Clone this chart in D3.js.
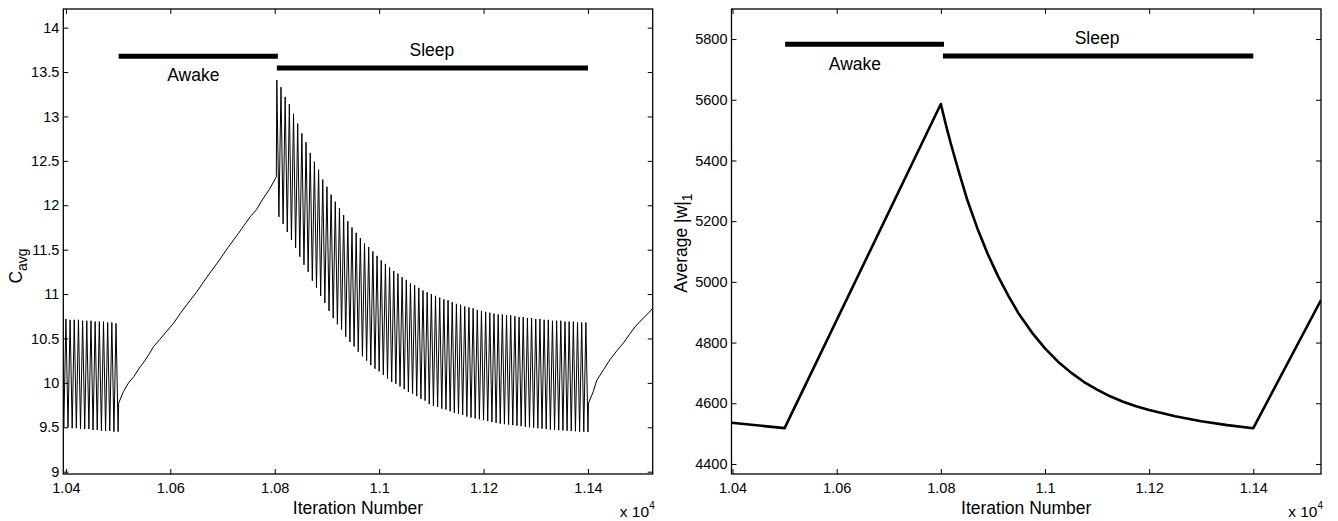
<!DOCTYPE html>
<html>
<head>
<meta charset="utf-8">
<script src="https://cdn.jsdelivr.net/npm/d3@7"></script>
<style>
  body { margin: 0; background: #fff; }
  svg { display: block; font-family: "Liberation Sans", Arial, Helvetica, sans-serif; }
</style>
</head>
<body>
<div id="chart"></div>
<script>
// ---- data (x in iterations) ----
const xTicks = [10400, 10600, 10800, 11000, 11200, 11400];
const xTickLabels = ['1.04', '1.06', '1.08', '1.1', '1.12', '1.14'];
const cTicks = [9, 9.5, 10, 10.5, 11, 11.5, 12, 12.5, 13, 13.5, 14];
const wTicks = [4400, 4600, 4800, 5000, 5200, 5400, 5600, 5800];

// C_avg zigzag: one peak + one trough every cycle
const cyclePeriod = 8;
const preStart = 10392;
const prePeaks = [10.72, 10.72, 10.71, 10.71, 10.71, 10.70, 10.70, 10.70, 10.69, 10.69, 10.69, 10.68, 10.68, 10.67];
const preTroughs = [9.50, 9.50, 9.49, 9.49, 9.48, 9.48, 9.48, 9.47, 9.47, 9.46, 9.46, 9.46, 9.45, 9.45];

const awakeIter = [10501, 10510, 10520, 10530, 10542, 10550, 10560, 10568, 10580, 10590, 10606, 10620, 10638, 10650,
  10670, 10690, 10710, 10730, 10753, 10765, 10776, 10790, 10803];
const awakeVal = [9.77, 9.90, 10.00, 10.07, 10.18, 10.24, 10.33, 10.41, 10.49, 10.56, 10.67, 10.79, 10.93, 11.02,
  11.19, 11.35, 11.52, 11.68, 11.87, 11.95, 12.06, 12.18, 12.32];

const sleepStart = 10804;
const sleepPeaks = [13.41, 13.33, 13.22, 13.14, 13.03, 12.92, 12.81, 12.71, 12.59, 12.49,
  12.40, 12.29, 12.21, 12.12, 12.04, 11.97, 11.89, 11.82, 11.75, 11.69,
  11.63, 11.57, 11.53, 11.48, 11.43, 11.38, 11.34, 11.30, 11.26, 11.23,
  11.19, 11.16, 11.12, 11.10, 11.07, 11.04, 11.02, 11.00, 10.98, 10.96,
  10.94, 10.93, 10.91, 10.89, 10.88, 10.86, 10.85, 10.84, 10.82, 10.81,
  10.80, 10.79, 10.78, 10.77, 10.77, 10.76, 10.76, 10.75, 10.74, 10.74,
  10.73, 10.73, 10.72, 10.72, 10.71, 10.71, 10.70, 10.70, 10.70, 10.69,
  10.69, 10.69, 10.68, 10.68, 10.68];
const sleepTroughs = [11.87, 11.79, 11.70, 11.61, 11.52, 11.42, 11.33, 11.25, 11.15, 11.07,
  10.98, 10.90, 10.81, 10.73, 10.66, 10.60, 10.52, 10.46, 10.41, 10.35,
  10.30, 10.25, 10.20, 10.16, 10.13, 10.09, 10.05, 10.01, 9.99, 9.96,
  9.93, 9.90, 9.88, 9.85, 9.82, 9.80, 9.76, 9.74, 9.73, 9.71,
  9.70, 9.68, 9.66, 9.65, 9.64, 9.62, 9.61, 9.60, 9.59, 9.58,
  9.57, 9.56, 9.55, 9.54, 9.535, 9.53, 9.524, 9.518, 9.512, 9.506,
  9.50, 9.495, 9.49, 9.485, 9.48, 9.475, 9.471, 9.467, 9.464, 9.461,
  9.458, 9.455, 9.452, 9.45, 9.447];

const postIter = [11401, 11410, 11417, 11430, 11442, 11455, 11468, 11480, 11490, 11506, 11515, 11524];
const postVal = [9.77, 9.90, 10.03, 10.15, 10.26, 10.36, 10.45, 10.55, 10.63, 10.73, 10.78, 10.84];

// Average |w|_1
const wIter = [10398, 10500, 10800, 10810, 10820, 10835, 10850, 10870, 10890, 10910, 10930, 10950, 10975,
  11000, 11025, 11050, 11075, 11100, 11125, 11150, 11175, 11200, 11250, 11300, 11350, 11400, 11530];
const wVal = [4536, 4518, 5586, 5515, 5450, 5360, 5274, 5177, 5092, 5018, 4953, 4894, 4833,
  4781, 4737, 4701, 4670, 4645, 4623, 4605, 4590, 4578, 4557, 4541, 4528, 4518, 4940];

// Awake / Sleep bars and their captions
const stageNames = ['Awake', 'Sleep'];
const stageStart = [10501, 10804];
const stageEnd = [10806, 11400];
const cStageLevel = [13.678, 13.545];
const wStageLevel = [5783, 5744];
const cCaptionX = [10644, 11101];
const cCaptionY = [13.403, 13.681];
const wCaptionX = [10635, 11100];
const wCaptionY = [5698, 5783];

// build the C_avg series
const cSeries = [];
prePeaks.forEach((v, i) => {
    cSeries.push([preStart + i * cyclePeriod, v]);
    cSeries.push([preStart + i * cyclePeriod + cyclePeriod / 2, preTroughs[i]]);
});
awakeIter.forEach((it, i) => cSeries.push([it, awakeVal[i]]));
sleepPeaks.forEach((v, i) => {
    cSeries.push([sleepStart + i * cyclePeriod, v]);
    cSeries.push([sleepStart + i * cyclePeriod + cyclePeriod / 2, sleepTroughs[i]]);
});
postIter.forEach((it, i) => cSeries.push([it, postVal[i]]));

const wSeries = wIter.map((it, i) => [it, wVal[i]]);

const svg = d3.select('#chart')
    .append('svg')
    .attr('width', 1338)
    .attr('height', 521);

function drawPanel(cfg) {
    const x = d3.scaleLinear().domain(cfg.xDomain).range([cfg.left, cfg.right]);
    const y = d3.scaleLinear().domain(cfg.yDomain).range([474, 9]);
    const g = svg.append('g');

    g.append('clipPath').attr('id', cfg.id + '-clip')
        .append('rect')
        .attr('x', cfg.left).attr('y', 9)
        .attr('width', cfg.right - cfg.left).attr('height', 465);

    // axes with inward ticks
    const fmt = d => xTickLabels[xTicks.indexOf(d)];
    const bottom = g.append('g')
        .attr('transform', 'translate(0,474)')
        .call(d3.axisBottom(x).tickValues(xTicks).tickFormat(fmt).tickSize(-5).tickPadding(9));
    const top = g.append('g')
        .attr('transform', 'translate(0,9)')
        .call(d3.axisTop(x).tickValues(xTicks).tickFormat('').tickSize(-5));
    const leftAx = g.append('g')
        .attr('transform', `translate(${cfg.left},0)`)
        .call(d3.axisLeft(y).tickValues(cfg.yTicks).tickFormat(d => String(d)).tickSize(-5).tickPadding(4));
    const rightAx = g.append('g')
        .attr('transform', `translate(${cfg.right},0)`)
        .call(d3.axisRight(y).tickValues(cfg.yTicks).tickFormat('').tickSize(-5));

    [bottom, top, leftAx, rightAx].forEach(a => {
        a.select('.domain').remove();
        a.selectAll('line').attr('stroke', '#000').attr('stroke-width', 1);
        a.selectAll('text').attr('fill', '#000').attr('font-size', '14.5px')
            .attr('font-family', '"Liberation Sans", Arial, Helvetica, sans-serif');
    });

    // data line
    const line = d3.line().x(d => x(d[0])).y(d => y(d[1]));
    g.append('path')
        .datum(cfg.series)
        .attr('clip-path', `url(#${cfg.id}-clip)`)
        .attr('fill', 'none')
        .attr('stroke', '#000')
        .attr('stroke-width', cfg.lineWidth)
        .attr('stroke-linejoin', 'round')
        .attr('d', line);

    // stage bars
    stageNames.forEach((name, i) => {
        g.append('line')
            .attr('x1', x(stageStart[i])).attr('x2', x(stageEnd[i]))
            .attr('y1', y(cfg.stageLevel[i])).attr('y2', y(cfg.stageLevel[i]))
            .attr('stroke', '#000')
            .attr('stroke-width', 5);
        g.append('text')
            .attr('x', x(cfg.captionX[i]))
            .attr('y', y(cfg.captionY[i]))
            .attr('text-anchor', 'middle')
            .attr('font-size', '17.5px')
            .attr('fill', '#000')
            .text(name);
    });

    // frame
    g.append('rect')
        .attr('x', cfg.left).attr('y', 9)
        .attr('width', cfg.right - cfg.left).attr('height', 465)
        .attr('fill', 'none')
        .attr('stroke', '#000')
        .attr('stroke-width', 1.3);

    // x label and exponent
    g.append('text')
        .attr('x', (cfg.left + cfg.right) / 2)
        .attr('y', 514)
        .attr('text-anchor', 'middle')
        .attr('font-size', '17.5px')
        .text('Iteration Number');

    const ex = g.append('text')
        .attr('x', cfg.right + 2)
        .attr('y', 516.5)
        .attr('text-anchor', 'end')
        .attr('font-size', '15.5px');
    ex.append('tspan').text('x 10');
    ex.append('tspan').attr('dy', -8).attr('font-size', '10px').text('4');

    // y label
    const yl = g.append('text')
        .attr('transform', `translate(${cfg.yLabelX},${cfg.yLabelY}) rotate(-90)`)
        .attr('text-anchor', 'middle')
        .attr('font-size', '17.5px');
    yl.append('tspan').text(cfg.yLabel);
    yl.append('tspan').attr('dy', 5).attr('font-size', '14px').text(cfg.yLabelSub);
}

drawPanel({
    id: 'cavg',
    left: 63.3, right: 652.7,
    xDomain: [10395, 11524],
    yDomain: [8.974, 14.21],
    yTicks: cTicks,
    series: cSeries,
    lineWidth: 1,
    stageLevel: cStageLevel,
    captionX: cCaptionX,
    captionY: cCaptionY,
    yLabel: 'C', yLabelSub: 'avg',
    yLabelX: 22, yLabelY: 266
});

drawPanel({
    id: 'wavg',
    left: 731.5, right: 1321,
    xDomain: [10398, 11530],
    yDomain: [4367, 5899],
    yTicks: wTicks,
    series: wSeries,
    lineWidth: 2.6,
    stageLevel: wStageLevel,
    captionX: wCaptionX,
    captionY: wCaptionY,
    yLabel: 'Average |w|', yLabelSub: '1',
    yLabelX: 687, yLabelY: 243
});
</script>
</body>
</html>
